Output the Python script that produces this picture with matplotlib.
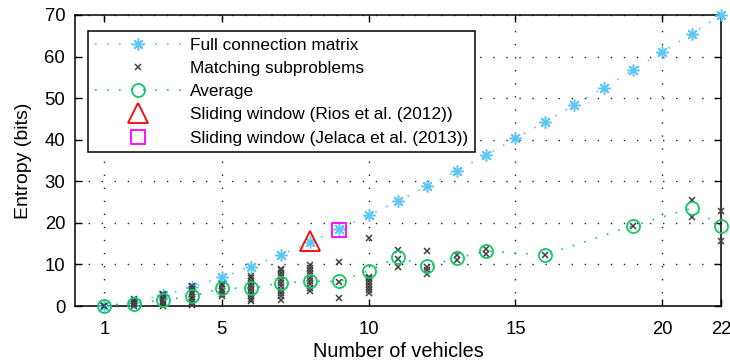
import matplotlib
matplotlib.use("Agg")
import matplotlib.pyplot as plt

plt.rcParams['font.family'] = ['Liberation Sans', 'DejaVu Sans']

# Number of vehicles and entropy of the full connection matrix
vehicles = list(range(1, 23))
full_entropy = [0.0, 1.0, 2.6, 4.6, 6.9, 9.5, 12.3, 15.3, 18.5, 21.8, 25.3,
                28.8, 32.5, 36.3, 40.3, 44.3, 48.3, 52.5, 56.7, 61.1, 65.5, 69.9]

# Entropy of the individual matching subproblems, grouped by vehicle count
sub_x = [1, 2, 3, 4, 5, 6, 7, 8, 9, 10, 11, 12, 13, 14, 16, 19, 21, 22]
sub_values = [
    [0.0, 0.0],
    [0.0, 0.4, 0.8, 1.2, 1.6],
    [0.0, 0.5, 1.0, 1.5, 2.0, 2.6, 3.0],
    [0.3, 1.0, 1.6, 2.2, 2.8, 3.4, 4.0, 4.7],
    [2.3, 2.9, 3.5, 4.1, 4.7, 5.3],
    [1.1, 1.8, 2.5, 3.2, 3.9, 4.6, 5.3, 6.0, 6.7, 7.3],
    [1.5, 2.3, 3.1, 3.9, 4.7, 5.5, 6.3, 7.1, 7.9, 8.6, 9.0],
    [3.5, 4.4, 5.2, 6.0, 6.8, 7.6, 8.4, 9.2, 9.8],
    [2.0, 5.7, 10.5],
    [3.2, 3.9, 4.6, 5.3, 6.0, 6.7, 7.0, 16.3],
    [9.3, 11.3, 13.5],
    [7.6, 8.7, 9.3, 13.2],
    [11.1, 12.3],
    [12.5, 13.7],
    [12.3],
    [19.3],
    [21.5, 25.5],
    [15.7, 22.9],
]

# Average subproblem entropy
avg_x = [1, 2, 3, 4, 5, 6, 7, 8, 9, 10, 11, 12, 13, 14, 16, 19, 21, 22]
avg_entropy = [0.0, 0.6, 1.4, 2.4, 4.3, 4.3, 5.5, 6.0, 5.9, 8.5, 11.7, 9.6,
               11.5, 13.2, 12.3, 19.3, 23.5, 19.3]

# Sliding window references
rios_x, rios_y = [8], [15.7]
jelaca_x, jelaca_y = [9], [18.4]

x_ticks = [1, 5, 10, 15, 20, 22]
y_ticks = [0, 10, 20, 30, 40, 50, 60, 70]

blue = '#5CC6F8'
green = '#14C864'
gray = '#404040'

fig = plt.figure(figsize=(7.3, 3.64), dpi=100)
ax = fig.add_axes([0.1027, 0.1593, 0.8850, 0.7995])

dotted = (0, (1, 6.2))

ax.plot(vehicles, full_entropy, color=blue, linestyle=dotted, linewidth=1.2,
        marker=(8, 2, 0), markersize=8.6, markeredgewidth=1.1,
        label='Full connection matrix', clip_on=False, zorder=3)

xs, ys = [], []
for xv, vals in zip(sub_x, sub_values):
    xs.extend([xv] * len(vals))
    ys.extend(vals)
ax.plot(xs, ys, linestyle='none', marker='x', markersize=4.5,
        markeredgewidth=1.1, color=gray, label='Matching subproblems',
        clip_on=False, zorder=4)

ax.plot(avg_x, avg_entropy, color=green, linestyle=dotted, linewidth=1.2,
        marker='o', markersize=9.4, markerfacecolor='none',
        markeredgewidth=1.3, label='Average', clip_on=False, zorder=5)

ax.plot(rios_x, rios_y, linestyle='none', marker='^', markersize=15,
        markerfacecolor='none', markeredgecolor='#FF0000',
        markeredgewidth=1.3, label='Sliding window (Rios et al. (2012))',
        zorder=6)
ax.plot(jelaca_x, jelaca_y, linestyle='none', marker='s', markersize=10,
        markerfacecolor='none', markeredgecolor='#FF00FF',
        markeredgewidth=1.3, label='Sliding window (Jelaca et al. (2013))',
        zorder=6)

ax.set_xlim(0, 22)
ax.set_ylim(0, 70)
ax.set_xticks(x_ticks)
ax.set_yticks(y_ticks)
ax.tick_params(direction='in', length=5, width=1.0, top=True, right=True,
               labelsize=13.3, colors='black')
ax.tick_params(axis='x', pad=11)
ax.tick_params(axis='y', pad=7)
for sp in ax.spines.values():
    sp.set_linewidth(1.1)
    sp.set_color('black')

ax.grid(True, color='#222222', linestyle=(0, (1, 8.4)), linewidth=1.0)
ax.set_axisbelow(True)

ax.set_xlabel('Number of vehicles', fontsize=14.3, labelpad=3)
ax.set_ylabel('Entropy (bits)', fontsize=14, labelpad=9)

leg = ax.legend(loc='upper left', bbox_to_anchor=(0.02, 0.945),
                fontsize=12.4, handlelength=5.0, handletextpad=0.55,
                labelspacing=0.47, borderpad=0.4, borderaxespad=0.0,
                fancybox=False, framealpha=1.0, edgecolor='black')
leg.get_frame().set_linewidth(1.1)

fig.savefig('out.png', dpi=100)
